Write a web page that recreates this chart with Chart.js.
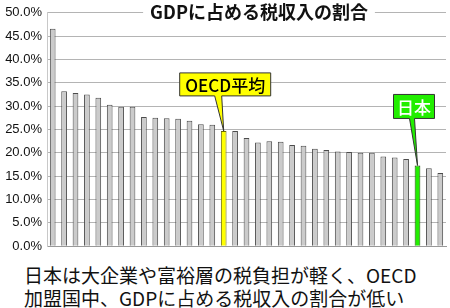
<!DOCTYPE html>
<html>
<head>
<meta charset="utf-8">
<script src="https://cdn.jsdelivr.net/npm/chart.js@4/dist/chart.umd.min.js"></script>
<style>
  html, body { margin: 0; padding: 0; background: #fff; }
  #wrap { position: relative; width: 450px; height: 308px; }
  #box { position: absolute; left: 0; top: 0; width: 450px; height: 259px; }
  .note {
    position: absolute; left: 24px; font-family: "Noto Sans CJK JP", sans-serif;
    font-size: 19px; line-height: 22px; color: #111; white-space: nowrap;
  }
</style>
</head>
<body>
<div id="wrap">
  <div id="box"><canvas id="chart"></canvas></div>
  <div class="note" style="top:264px">日本は大企業や富裕層の税負担が軽く、OECD</div>
  <div class="note" style="top:287px">加盟国中、GDPに占める税収入の割合が低い</div>
</div>
<script>
const chartTitle = "GDPに占める税収入の割合"

// 35 bars: OECD member countries plus the OECD average, sorted by value
const categories = [
  "1", "2", "3", "4", "5", "6", "7", "8", "9", "10",
  "11", "12", "13", "14", "15", "OECD平均", "17", "18", "19", "20",
  "21", "22", "23", "24", "25", "26", "27", "28", "29", "30",
  "31", "32", "日本", "34", "35"
]
const taxShare = [
  46.6, 33.2, 32.8, 32.5, 31.8, 30.3, 29.9, 29.9, 27.7, 27.5,
  27.4, 27.3, 26.9, 26.1, 26.0, 24.7, 24.7, 23.2, 22.2, 22.5,
  22.4, 21.7, 21.5, 20.9, 20.6, 20.3, 20.2, 20.0, 20.0, 19.2,
  19.0, 18.7, 17.3, 16.7, 15.7
]
const yTicks = [0, 5, 10, 15, 20, 25, 30, 35, 40, 45, 50]

const avgIndex = categories.indexOf("OECD平均")
const japanIndex = categories.indexOf("日本")

const fills = categories.map((c, i) =>
  i === avgIndex ? "#ffff00" : i === japanIndex ? "#22ee00" : "#cbcbcb")
const borders = categories.map((c, i) =>
  i === avgIndex ? "#6b6b00" : i === japanIndex ? "#1a4a00" : "#4c4c4c")

// callouts are drawn relative to the bar they point at
const callouts = [
  { index: avgIndex, text: "OECD平均", fill: "#ffff00", color: "#000",
    box: [-44, -58, 91, 23], base: [-9, -2] },
  { index: japanIndex, text: "日本", fill: "#22ee00", color: "#fff",
    box: [-24, -71, 41, 24], base: [-8, -3] }
]

const overlay = {
  id: "overlay",
  afterDatasetsDraw(chart) {
    const ctx = chart.ctx
    const meta = chart.getDatasetMeta(0)

    // title sits on top of the 50% grid line
    ctx.save()
    ctx.font = "bold 18px 'Noto Sans CJK JP', sans-serif"
    const w = ctx.measureText(chartTitle).width
    const cx = 259
    ctx.fillStyle = "#fff"
    ctx.fillRect(cx - w / 2 - 7, 0, w + 14, 22)
    ctx.fillStyle = "#111"
    ctx.textAlign = "center"
    ctx.textBaseline = "middle"
    ctx.fillText(chartTitle, cx, 12)
    ctx.restore()

    callouts.forEach(c => {
      const bar = meta.data[c.index]
      const tx = bar.x, ty = bar.y
      const [bx, by, bw, bh] = c.box
      const left = tx + bx, top = ty + by, bottom = top + bh
      ctx.save()
      ctx.fillStyle = c.fill
      ctx.strokeStyle = "#333"
      ctx.lineWidth = 1
      ctx.beginPath()
      ctx.moveTo(left, top)
      ctx.lineTo(left + bw, top)
      ctx.lineTo(left + bw, bottom)
      ctx.lineTo(tx + c.base[1], bottom)
      ctx.lineTo(tx, ty)
      ctx.lineTo(tx + c.base[0], bottom)
      ctx.lineTo(left, bottom)
      ctx.closePath()
      ctx.fill()
      ctx.stroke()
      ctx.fillStyle = c.color
      ctx.font = "500 17px 'Noto Sans CJK JP', sans-serif"
      ctx.textAlign = "center"
      ctx.textBaseline = "middle"
      ctx.fillText(c.text, left + bw / 2, top + bh / 2 + 1)
      ctx.restore()
    })
  }
}

new Chart(document.getElementById("chart"), {
  type: "bar",
  data: {
    labels: categories,
    datasets: [{
      data: taxShare,
      backgroundColor: fills,
      borderColor: borders,
      borderWidth: 1,
      barPercentage: 0.5,
      categoryPercentage: 1
    }]
  },
  options: {
    responsive: true,
    maintainAspectRatio: false,
    animation: false,
    layout: { padding: { top: 0, right: 4, left: 0, bottom: 0 } },
    plugins: {
      legend: { display: false },
      tooltip: { enabled: false }
    },
    scales: {
      x: {
        ticks: { display: false },
        grid: { display: false },
        border: { color: "#999" }
      },
      y: {
        min: 0,
        max: 50,
        afterBuildTicks: s => { s.ticks = yTicks.map(v => ({ value: v })) },
        afterFit: s => { s.width = 47 },
        ticks: {
          color: "#111",
          font: { family: "Liberation Sans", size: 13 },
          padding: 5,
          callback: v => v.toFixed(1) + "%"
        },
        grid: { color: "#b4b4b4", drawTicks: false },
        border: { color: "#c8c8c8" }
      }
    }
  },
  plugins: [overlay]
})
</script>
</body>
</html>
